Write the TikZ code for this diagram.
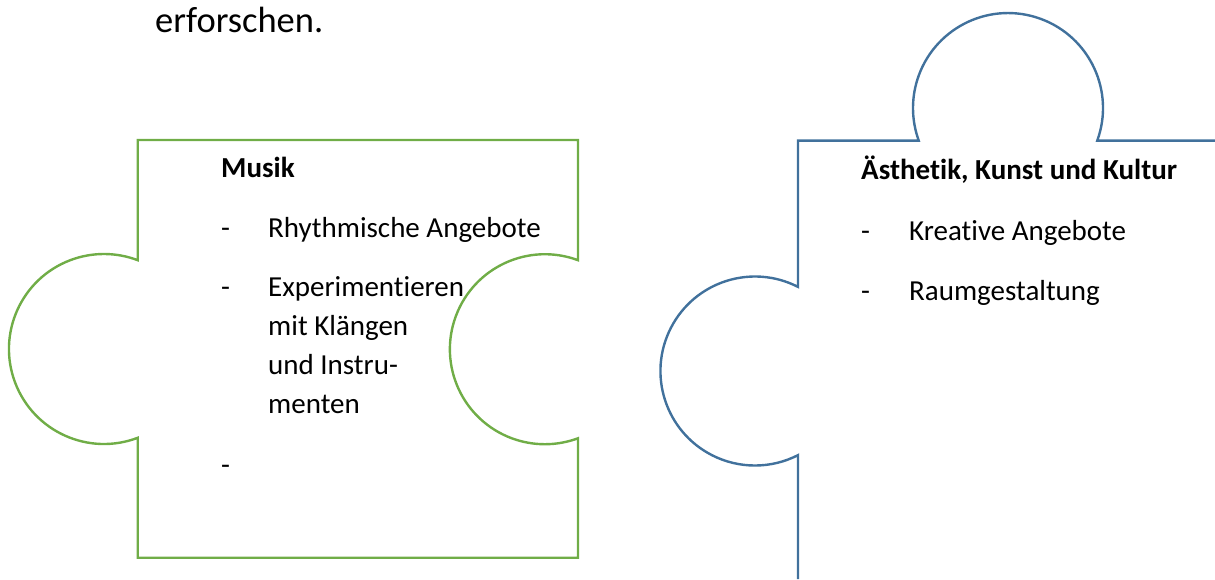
\documentclass[tikz,border=0pt]{standalone}
\usepackage{fontspec}
\setmainfont{Carlito}[Ligatures={NoCommon,NoContextual}, Contextuals=NoAlternate]
\usetikzlibrary{positioning}
\definecolor{puzzlegreen}{HTML}{70AD47}
\definecolor{puzzleblue}{HTML}{41719C}

\begin{document}
\begin{tikzpicture}[x=1pt, y=1pt,
    piece/.style = {line width=2.4pt, line join=miter},
    txt/.style = {inner sep=0pt, anchor=base west, font=\fontsize{29}{35}\selectfont},
    head/.style = {txt, font=\fontsize{29}{35}\selectfont\bfseries},]
    \useasboundingbox (0,0) rectangle (1215,579);
    \node [txt, font=\fontsize{36.5}{44}\selectfont] (intro) at (155,546) {erforschen.};
    \draw [piece, puzzlegreen] (137.7,439) -- (578,439) -- (578,318.8)
        arc [start angle=69.6, end angle=290.4, radius=95] -- (578,21.3) -- (137.7,21.3) -- (137.7,141.2)
        arc [start angle=-69.2, end angle=-290.8, radius=95] -- cycle;
    \draw [piece, puzzleblue] (1215,438.3) -- (1097.2,438.3)
        arc [start angle=-20.1, end angle=200.1, radius=95] -- (798,438.3) -- (798,292.1)
        arc [start angle=62.9, end angle=297.1, radius=94.5] -- (798,0);
    \node [head] (musik) at (221,401) {Musik};
    \node [txt] (dash_rhythm) at (221,341) {-};
    \node [txt] (rhythm) at (268,341) {Rhythmische Angebote};
    \node [txt] (dash_exp) at (221,282) {-};
    \node [txt] (exp) at (268,282) {Experimentieren};
    \node [txt, below=38.7pt of exp.base west, anchor=base west] (klang) {mit Klängen};
    \node [txt, below=38.7pt of klang.base west, anchor=base west] (instr) {und Instru-};
    \node [txt, below=38.7pt of instr.base west, anchor=base west] (menten) {menten};
    \node [txt] (dash_empty) at (221,105) {-};
    \node [head] (aesth) at (861,399) {Ästhetik, Kunst und Kultur};
    \node [txt] (dash_kreativ) at (861,338) {-};
    \node [txt] (kreativ) at (909,338) {Kreative Angebote};
    \node [txt] (dash_raum) at (861,278) {-};
    \node [txt] (raum) at (909,278) {Raumgestaltung};
  \end{tikzpicture}
\end{document}
